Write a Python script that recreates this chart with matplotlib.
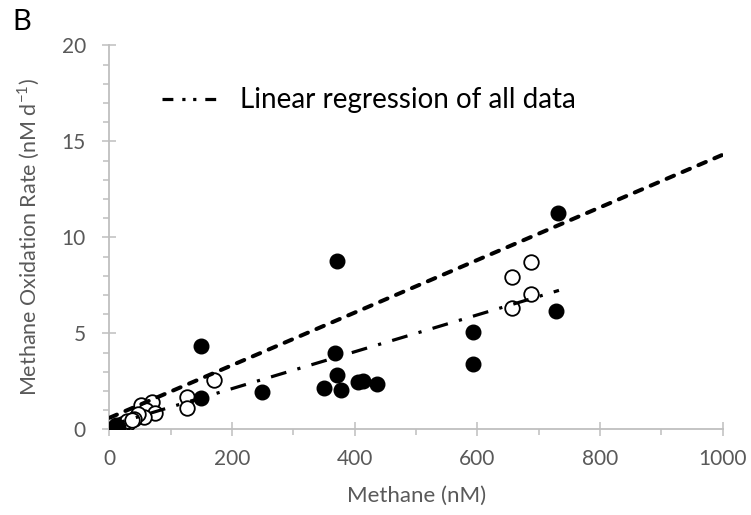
import numpy as np
import matplotlib
matplotlib.use("Agg")
import matplotlib.pyplot as plt
from matplotlib.ticker import MultipleLocator
from matplotlib.lines import Line2D

plt.rcParams['font.family'] = ['Lato', 'DejaVu Sans']

# filled circles
filled_x = [3, 8, 14, 10, 149, 149, 249, 371, 367, 371, 350, 377, 406, 414, 437, 592, 592, 732, 728]
filled_y = [0.02, 0.08, 0.12, 0.25, 4.33, 1.61, 1.96, 8.77, 3.99, 2.83, 2.17, 2.05, 2.48, 2.53, 2.34,
            5.05, 3.40, 11.28, 6.18]

# open circles
open_x = [52, 69, 60, 74, 57, 47, 40, 30, 22, 14, 8, 20, 28, 36, 127, 127, 170, 657, 687, 687, 657]
open_y = [1.27, 1.40, 1.0, 0.85, 0.62, 0.80, 0.55, 0.35, 0.22, 0.14, 0.06, 0.30, 0.45, 0.50,
          1.70, 1.10, 2.57, 7.92, 8.70, 7.03, 6.33]

# trend lines (slope, intercept, x range)
dash_fit = (0.0137, 0.6, 0, 1000)
dashdot_fit = (0.0096, 0.2, 0, 733)

gray = '#BFBFBF'
text_gray = '#595959'

fig = plt.figure(figsize=(7.51, 5.15), dpi=100)
ax = fig.add_axes([0.1458, 0.1664, 0.8165, 0.7456])

ax.plot(open_x, open_y, 'o', markerfacecolor='white', markeredgecolor='black',
        markeredgewidth=1.3, markersize=10.5, zorder=2)
ax.plot(filled_x, filled_y, 'o', color='black', markersize=10.5, zorder=3)

s, b, x0, x1 = dash_fit
xs = np.array([x0, x1])
ax.plot(xs, s * xs + b, color='black', lw=2.9, dashes=(2, 2.3),
        dash_capstyle='round', zorder=4)

s, b, x0, x1 = dashdot_fit
xs = np.array([x0, x1])
ax.plot(xs, s * xs + b, color='black', lw=2.3, dashes=(5, 3.6, 1, 3.6), zorder=4)

ax.set_xlim(0, 1000)
ax.set_ylim(0, 20)
ax.xaxis.set_major_locator(MultipleLocator(200))
ax.xaxis.set_minor_locator(MultipleLocator(100))
ax.yaxis.set_major_locator(MultipleLocator(5))
ax.yaxis.set_minor_locator(MultipleLocator(1))

for side in ['top', 'right']:
    ax.spines[side].set_visible(False)
for side in ['left', 'bottom']:
    ax.spines[side].set_color(gray)
    ax.spines[side].set_linewidth(1.3)
    ax.spines[side].set_zorder(1)

ax.tick_params(which='major', direction='inout', length=10, width=1.1, color=gray,
               labelcolor=text_gray, labelsize=15)
ax.tick_params(axis='x', which='major', pad=9)
ax.tick_params(axis='y', which='major', pad=12)
ax.tick_params(which='minor', direction='out', length=4.5, width=1.1, color=gray)

ax.set_xlabel('Methane (nM)', fontsize=16, color=text_gray, labelpad=12)
ax.set_ylabel('Methane Oxidation Rate (nM d$^{\\mathregular{-1}}$)', fontsize=15.5,
              color=text_gray, labelpad=14)

handle = Line2D([], [], color='black', lw=2.3, dashes=(3.4, 2.8, 1, 2.4, 1, 2.8))
ax.legend([handle], ['Linear regression of all data'], loc='center left',
          bbox_to_anchor=(0.0856, 0.857), frameon=False, fontsize=20,
          handlelength=2.0, handletextpad=0.8, borderpad=0, borderaxespad=0)

fig.text(0.016, 0.957, 'B', fontsize=21, color='black', ha='left', va='center')

fig.savefig('out.png', dpi=100)
